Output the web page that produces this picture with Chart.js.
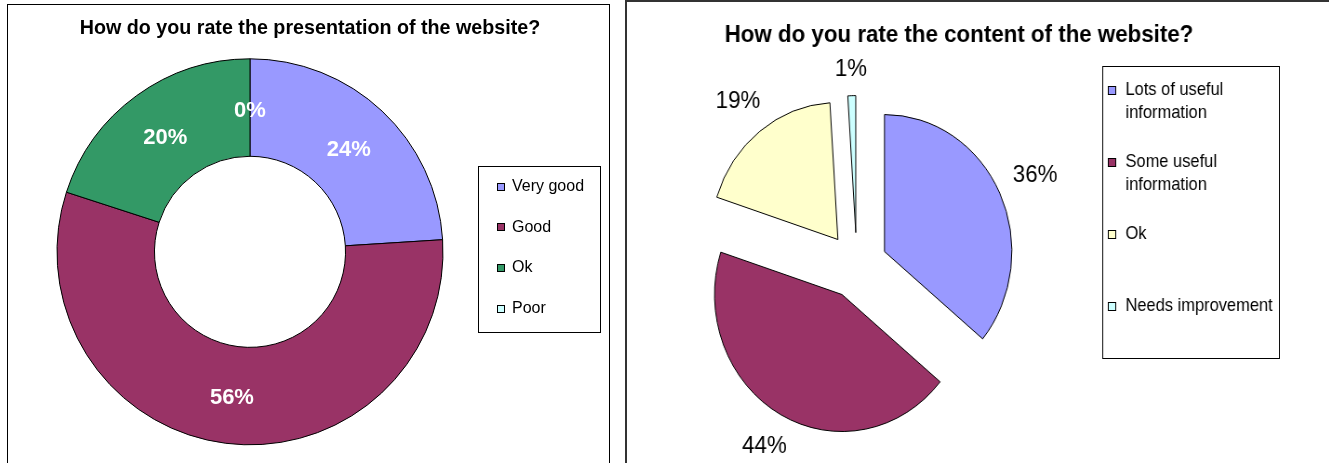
<!DOCTYPE html>
<html>
<head>
<meta charset="utf-8">
<title>Website survey</title>
<script src="https://cdn.jsdelivr.net/npm/chart.js@4.4.1/dist/chart.umd.min.js"></script>
<style>
  html, body { margin: 0; padding: 0; background: #fff; }
  body { width: 1329px; height: 463px; overflow: hidden; position: relative; }
  .panel { position: absolute; box-sizing: border-box; background: #fff; }
  #leftPanel { left: 7px; top: 4px; width: 603px; height: 520px; border: 1px solid #000; }
  #rightPanel { left: 625px; top: 0; width: 760px; height: 520px; border: 2px solid #333; }
  canvas { position: absolute; }
  #presentationChart { left: 8px; top: 5px; }
  #contentChart { left: 627px; top: 2px; transform: scaleX(0.93); transform-origin: 0 0; }
</style>
</head>
<body>
<div class="panel" id="leftPanel"></div>
<div class="panel" id="rightPanel"></div>
<canvas id="presentationChart" width="600" height="458"></canvas>
<canvas id="contentChart" width="755" height="490"></canvas>
<script>
const FONT = "'Liberation Sans', Arial, Helvetica, sans-serif";

const presentationLabels = ['Very good', 'Good', 'Ok', 'Poor'];
const presentationValues = [24, 56, 20, 0];
const presentationColors = ['#9999FF', '#993366', '#339966', '#CCFFFF'];

const contentLabels = ['Lots of useful information', 'Some useful information', 'Ok', 'Needs improvement'];
const contentValues = [36, 44, 19, 1];
const contentColors = ['#9999FF', '#993366', '#FFFFCC', '#CCFFFF'];

Chart.defaults.font.family = FONT;
Chart.defaults.color = '#000';

// split a legend entry into lines that fit maxWidth
function wrapText(ctx, text, maxWidth) {
    const words = text.split(' ');
    const lines = [];
    let line = '';
    words.forEach(w => {
        const test = line ? line + ' ' + w : w;
        if (line && ctx.measureText(test).width > maxWidth) {
            lines.push(line);
            line = w;
        } else {
            line = test;
        }
    });
    if (line) lines.push(line);
    return lines;
}

// legend in a black frame; it also takes a column on the right of the layout
function framedLegend(cfg) {
    return {
        id: 'framedLegend',
        beforeInit(chart) {
            Chart.layouts.addBox(chart, {
                position: 'right',
                weight: 100,
                fullSize: false,
                options: {},
                isHorizontal: () => false,
                update(maxWidth, maxHeight) {
                    this.width = cfg.reserve;
                    this.height = maxHeight;
                },
                draw() {
                    const ctx = chart.ctx;
                    const ds = chart.data.datasets[0];
                    const m = cfg.marker;
                    ctx.save();
                    ctx.lineWidth = 1;
                    ctx.strokeStyle = '#000';
                    ctx.strokeRect(cfg.x + 0.5, cfg.y + 0.5, cfg.w, cfg.h);
                    ctx.font = cfg.fontSize + 'px ' + FONT;
                    ctx.textAlign = 'left';
                    ctx.textBaseline = 'middle';
                    chart.data.labels.forEach((label, i) => {
                        const y = cfg.firstY + i * cfg.step;
                        const top = Math.round(y - m / 2);
                        ctx.fillStyle = ds.backgroundColor[i];
                        ctx.fillRect(cfg.markerX, top, m, m);
                        ctx.strokeRect(cfg.markerX + 0.5, top + 0.5, m - 1, m - 1);
                        ctx.fillStyle = '#000';
                        wrapText(ctx, label, cfg.textWidth).forEach((ln, j) => {
                            ctx.fillText(ln, cfg.textX, y + j * cfg.lineHeight);
                        });
                    });
                    ctx.restore();
                }
            });
        }
    };
}

// percentage labels, either inside the ring or outside the pie
function percentLabels(cfg) {
    return {
        id: 'percentLabels',
        afterDatasetsDraw(chart) {
            const ctx = chart.ctx;
            const values = chart.data.datasets[0].data;
            ctx.save();
            ctx.font = (cfg.bold ? 'bold ' : '') + cfg.fontSize + 'px ' + FONT;
            ctx.fillStyle = cfg.color;
            ctx.textAlign = 'center';
            ctx.textBaseline = 'middle';
            chart.getDatasetMeta(0).data.forEach((arc, i) => {
                const text = values[i] + '%';
                let x, y;
                if (cfg.outside) {
                    // keep the text box clear of the rim
                    const mid = (arc.startAngle + arc.endAngle) / 2;
                    const cos = Math.cos(mid), sin = Math.sin(mid);
                    const halfW = ctx.measureText(text).width / 2;
                    const halfH = cfg.fontSize * 0.375;
                    const r = arc.outerRadius + cfg.gap + halfW * Math.abs(cos) + halfH * Math.abs(sin);
                    x = arc.x + cos * r;
                    y = arc.y + sin * r;
                } else {
                    ({x, y} = arc.tooltipPosition());
                    y += cfg.dy || 0;
                }
                ctx.fillText(text, x, y);
            });
            ctx.restore();
        }
    };
}

// pulls every slice away from the centre along its middle angle
function explodeSlices(distance) {
    return {
        id: 'explodeSlices',
        afterDatasetUpdate(chart, args) {
            args.meta.data.forEach(arc => {
                const mid = (arc.startAngle + arc.endAngle) / 2;
                arc.x += Math.cos(mid) * distance;
                arc.y += Math.sin(mid) * distance;
            });
        }
    };
}

new Chart(document.getElementById('presentationChart'), {
    type: 'doughnut',
    data: {
        labels: presentationLabels,
        datasets: [{
            data: presentationValues,
            backgroundColor: presentationColors,
            borderColor: '#000',
            borderWidth: 1
        }]
    },
    options: {
        responsive: false,
        animation: false,
        events: [],
        radius: 193,
        cutout: '49.5%',
        layout: { padding: { left: 4, right: 0, top: 0, bottom: 10 } },
        plugins: {
            legend: { display: false },
            tooltip: { enabled: false },
            title: {
                display: true,
                text: 'How do you rate the presentation of the website?',
                font: { size: 19.7, weight: 'bold' },
                color: '#000',
                padding: { top: 12, bottom: 10 }
            }
        }
    },
    plugins: [
        framedLegend({
            reserve: 120, x: 470, y: 161, w: 122, h: 166,
            marker: 8, markerX: 489, textX: 504, textWidth: 90,
            firstY: 181.7, step: 40.6, lineHeight: 19, fontSize: 16
        }),
        percentLabels({ fontSize: 22, bold: true, color: '#fff', dy: 3 })
    ]
});

new Chart(document.getElementById('contentChart'), {
    type: 'pie',
    data: {
        labels: contentLabels,
        datasets: [{
            data: contentValues,
            backgroundColor: contentColors,
            borderColor: '#000',
            borderWidth: 1
        }]
    },
    options: {
        responsive: false,
        animation: false,
        events: [],
        radius: 137,
        layout: { padding: { left: 0, right: 41, top: 0, bottom: 20.6 } },
        plugins: {
            legend: { display: false },
            tooltip: { enabled: false },
            title: {
                display: true,
                text: 'How do you rate the content of the website?',
                font: { size: 24, weight: 'bold' },
                color: '#000',
                padding: { top: 19, bottom: 10 }
            }
        }
    },
    plugins: [
        explodeSlices(33),
        framedLegend({
            reserve: 220, x: 511, y: 64, w: 190, h: 292,
            marker: 9, markerX: 517, textX: 536, textWidth: 162,
            firstY: 88, step: 72, lineHeight: 23.5, fontSize: 17.7
        }),
        percentLabels({ fontSize: 24, bold: false, color: '#000', outside: true, gap: 16.5 })
    ]
});
</script>
</body>
</html>
